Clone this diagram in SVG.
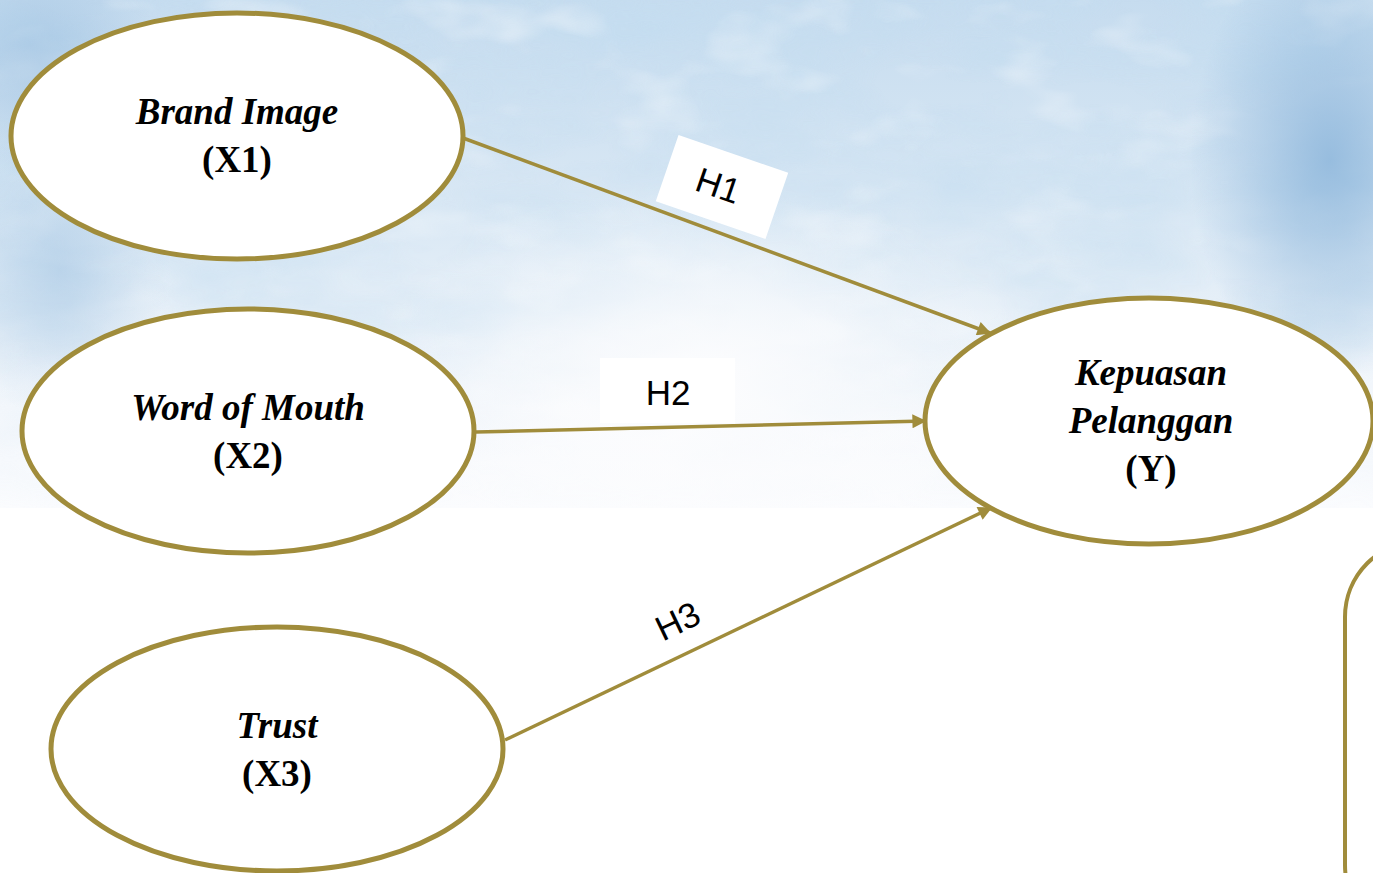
<svg xmlns="http://www.w3.org/2000/svg" width="1373" height="873" viewBox="0 0 1373 873">
<defs>
<style>
.node{fill:#fff;stroke:#A08C3B;stroke-width:5}
.conn{stroke:#A08C3B;stroke-width:3.5;fill:none}
.t{font-family:"Liberation Serif","Times New Roman",serif;font-size:37px;font-weight:bold;fill:#000;text-anchor:middle}
.i{font-style:italic}
.h{font-family:"Liberation Sans",Arial,sans-serif;font-size:35px;fill:#000;text-anchor:middle}
</style>
<marker id="arr" viewBox="0 0 10 10" refX="9" refY="5" markerWidth="4.4" markerHeight="4" orient="auto" markerUnits="strokeWidth">
<path d="M0,0 L10,5 L0,10 z" fill="#A08C3B"/>
</marker>
<linearGradient id="sky" x1="0" y1="0" x2="0" y2="1">
<stop offset="0" stop-color="#c6dcef"/>
<stop offset="0.45" stop-color="#dbe9f5"/>
<stop offset="0.8" stop-color="#f5f8fc"/>
<stop offset="1" stop-color="#fbfcfe"/>
</linearGradient>
<radialGradient id="glow" cx="0.5" cy="0.5" r="0.5">
<stop offset="0" stop-color="#fdfdfe" stop-opacity="1"/>
<stop offset="1" stop-color="#fdfdfe" stop-opacity="0"/>
</radialGradient>
<radialGradient id="blue" cx="0.5" cy="0.5" r="0.5">
<stop offset="0" stop-color="#8db6db" stop-opacity="0.85"/>
<stop offset="1" stop-color="#8db6db" stop-opacity="0"/>
</radialGradient>
<filter id="cloud" x="0" y="0" width="1" height="1">
<feTurbulence type="fractalNoise" baseFrequency="0.006 0.014" numOctaves="4" seed="7"/>
<feColorMatrix type="matrix" values="0 0 0 0 0.55  0 0 0 0 0.72  0 0 0 0 0.87  0 0 0 -1.6 1.1"/>
</filter>
<filter id="white" x="0" y="0" width="1" height="1">
<feTurbulence type="fractalNoise" baseFrequency="0.01 0.02" numOctaves="3" seed="3"/>
<feColorMatrix type="matrix" values="0 0 0 0 1  0 0 0 0 1  0 0 0 0 1  0 0 0 2 -1.1"/>
</filter>
<linearGradient id="fade" x1="0" y1="0" x2="0" y2="1">
<stop offset="0" stop-color="#fff" stop-opacity="0.9"/>
<stop offset="0.6" stop-color="#fff" stop-opacity="0.5"/>
<stop offset="1" stop-color="#fff" stop-opacity="0"/>
</linearGradient>
<mask id="m"><rect x="0" y="0" width="1373" height="520" fill="url(#fade)"/></mask>
</defs>
<g id="background">
<rect x="0" y="0" width="1373" height="873" fill="#fff"/>
<rect x="0" y="0" width="1373" height="510" fill="url(#sky)"/>
<rect x="0" y="0" width="1373" height="510" filter="url(#cloud)" mask="url(#m)"/>
<rect x="0" y="0" width="1373" height="510" filter="url(#white)" mask="url(#m)" opacity="0.7"/>
<ellipse cx="1330" cy="160" rx="140" ry="220" fill="url(#blue)"/>
<ellipse cx="40" cy="60" rx="120" ry="120" fill="url(#blue)" opacity="0.6"/>
<ellipse cx="60" cy="270" rx="110" ry="150" fill="url(#blue)" opacity="0.5"/>
<ellipse cx="700" cy="390" rx="340" ry="210" fill="url(#glow)"/>
<rect x="0" y="508" width="1373" height="365" fill="#fff"/>
</g>
<g id="connectors">
<line class="conn" x1="463" y1="138" x2="990" y2="333" marker-end="url(#arr)"/>
<line class="conn" x1="476" y1="432" x2="925" y2="421" marker-end="url(#arr)"/>
<line class="conn" x1="505" y1="740" x2="991" y2="508" marker-end="url(#arr)"/>
<g transform="translate(722,187) rotate(19)"><rect x="-58" y="-35" width="116" height="70" fill="#fff"/><text class="h" x="-4" y="12">H1</text></g>
<rect x="600" y="358" width="135" height="65" fill="#fff"/>
<text class="h" x="668" y="405">H2</text>
<text class="h" transform="translate(683,632) rotate(-25.6)" x="0" y="0">H3</text>
</g>
<g id="brand-image">
<ellipse class="node" cx="237" cy="136" rx="226" ry="123"/>
<text class="t i" x="237" y="124">Brand Image</text>
<text class="t" x="237" y="172">(X1)</text>
</g>
<g id="word-of-mouth">
<ellipse class="node" cx="248" cy="431" rx="226" ry="122"/>
<text class="t i" x="248" y="420">Word of Mouth</text>
<text class="t" x="248" y="468">(X2)</text>
</g>
<g id="trust">
<ellipse class="node" cx="277" cy="749" rx="226" ry="122"/>
<text class="t i" x="277" y="738">Trust</text>
<text class="t" x="277" y="786">(X3)</text>
</g>
<g id="kepuasan">
<ellipse class="node" cx="1149" cy="421" rx="224" ry="123"/>
<text class="t i" x="1151" y="385">Kepuasan</text>
<text class="t i" x="1151" y="433">Pelanggan</text>
<text class="t" x="1151" y="481">(Y)</text>
</g>
<g id="box">
<rect x="1345" y="541" width="200" height="400" rx="76" ry="76" fill="#fff" stroke="#A08C3B" stroke-width="4"/>
</g>
</svg>
